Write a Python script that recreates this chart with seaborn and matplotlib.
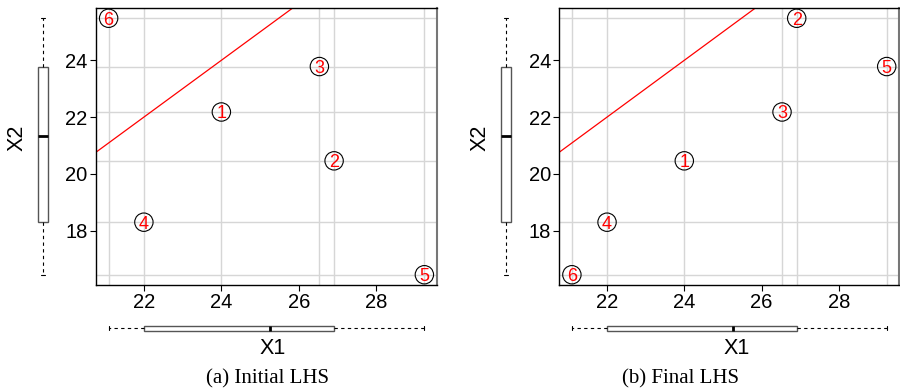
import numpy as np
import pandas as pd
import matplotlib
matplotlib.use("Agg")
import matplotlib.pyplot as plt
import seaborn as sns

# ---- data ----
point_ids = ["1", "2", "3", "4", "5", "6"]
x1_values = [24.0, 26.91, 26.53, 22.0, 29.24, 21.09]
x2_initial = [22.18, 20.46, 23.78, 18.30, 16.45, 25.48]
x2_final = [20.46, 25.48, 22.18, 18.30, 23.78, 16.45]
x_ticks = [22, 24, 26, 28]
y_ticks = [18, 20, 22, 24]
captions = ["(a) Initial LHS", "(b) Final LHS"]

sns.set_theme(style="white")
plt.rcParams["font.family"] = ["Liberation Sans", "DejaVu Sans"]
plt.rcParams["text.color"] = "black"
plt.rcParams["axes.labelcolor"] = "black"
plt.rcParams["xtick.color"] = "black"
plt.rcParams["ytick.color"] = "black"

W, H = 900, 392
fig = plt.figure(figsize=(W / 100, H / 100), dpi=100)


def frac(l, t, r, b):
    return [l / W, 1 - b / H, (r - l) / W, (b - t) / H]


def fivenum(v):
    v = np.sort(np.asarray(v, dtype=float))
    n = len(v)
    med = np.median(v)
    lower = v[: (n + 1) // 2]
    upper = v[n // 2:]
    return v[0], np.median(lower), med, np.median(upper), v[-1]


def padded(v):
    lo, hi = min(v), max(v)
    r = hi - lo
    return lo - 0.04 * r, hi + 0.04 * r


def draw_panel(xoff, xs, ys, caption, ylab_x, xlab_x, cap_x, ybox_cx, right_edge):
    ax = fig.add_axes(frac(96 + xoff, 8, right_edge, 285))
    df = pd.DataFrame({"X1": xs, "X2": ys, "id": point_ids})
    xlim = padded(xs)
    ylim = padded(ys)
    # LHS grid at the sample coordinates
    for xv in xs:
        ax.axvline(xv, color="#d6d6d6", lw=1, zorder=0)
    for yv in ys:
        ax.axhline(yv, color="#d6d6d6", lw=1, zorder=0)
    ax.axline((0, 0), slope=1, color="red", lw=0.9, zorder=1)
    sns.scatterplot(data=df, x="X1", y="X2", ax=ax, s=175, marker="o",
                    facecolor="none", edgecolor="black", linewidth=0.8, zorder=3)
    for _, row in df.iterrows():
        ax.text(row["X1"], row["X2"], row["id"], color="red", fontsize=13,
                ha="center", va="center_baseline", zorder=4)
    ax.set_xlim(xlim)
    ax.set_ylim(ylim)
    ax.set_xticks(x_ticks)
    ax.set_yticks(y_ticks)
    ax.set_xlabel("")
    ax.set_ylabel("")
    ax.tick_params(axis="both", which="major", labelsize=14.5, length=4, width=0.8,
                   color="black", labelcolor="black", direction="out", pad=2,
                   bottom=True, left=True)
    for side in ["left", "bottom", "top"]:
        ax.spines[side].set_color("black")
        ax.spines[side].set_linewidth(1)
    ax.spines["right"].set_color("#777777")
    ax.spines["right"].set_linewidth(1.5)

    # marginal boxplot for X1 (below)
    axbx = fig.add_axes(frac(96 + xoff, 318, right_edge, 338))
    mn, q1, md, q3, mx = fivenum(xs)
    stats = [dict(med=md, q1=q1, q3=q3, whislo=mn, whishi=mx, fliers=[])]
    axbx.bxp(stats, positions=[0], widths=0.5, vert=False, patch_artist=True,
             showfliers=False, capwidths=0.35,
             boxprops=dict(facecolor="white", edgecolor="#555555", lw=1),
             whiskerprops=dict(color="black", lw=0.8, linestyle=(0, (3, 3))),
             capprops=dict(color="black", lw=0.8),
             medianprops=dict(color="black", lw=2))
    axbx.set_xlim(xlim)
    axbx.set_ylim(-1, 1)
    axbx.axis("off")

    # marginal boxplot for X2 (left)
    axby = fig.add_axes(frac(ybox_cx - 10, 8, ybox_cx + 10, 285))
    mn, q1, md, q3, mx = fivenum(ys)
    stats = [dict(med=md, q1=q1, q3=q3, whislo=mn, whishi=mx, fliers=[])]
    axby.bxp(stats, positions=[0], widths=1.0, vert=True, patch_artist=True,
             showfliers=False, capwidths=0.4,
             boxprops=dict(facecolor="white", edgecolor="#555555", lw=1),
             whiskerprops=dict(color="black", lw=0.8, linestyle=(0, (3, 3))),
             capprops=dict(color="black", lw=0.8),
             medianprops=dict(color="black", lw=2))
    axby.set_ylim(ylim)
    axby.set_xlim(-1, 1)
    axby.axis("off")

    fig.text(ylab_x / W, 1 - 138 / H, "X2", rotation=90, fontsize=15.5,
             color="black", ha="center", va="center")
    fig.text(xlab_x / W, 1 - 349 / H, "X1", fontsize=15.5, color="black",
             ha="center", va="center")
    fig.text(cap_x / W, 1 - 379 / H, caption, fontsize=15, color="black",
             family=["Liberation Serif", "DejaVu Serif"], ha="center", va="center")


draw_panel(0, x1_values, x2_initial, captions[0], 17, 273, 268, 42.5, 437)
draw_panel(463.3, x1_values, x2_final, captions[1], 480, 737, 680, 505.7, 899.3)

fig.savefig("out.png", dpi=100)
